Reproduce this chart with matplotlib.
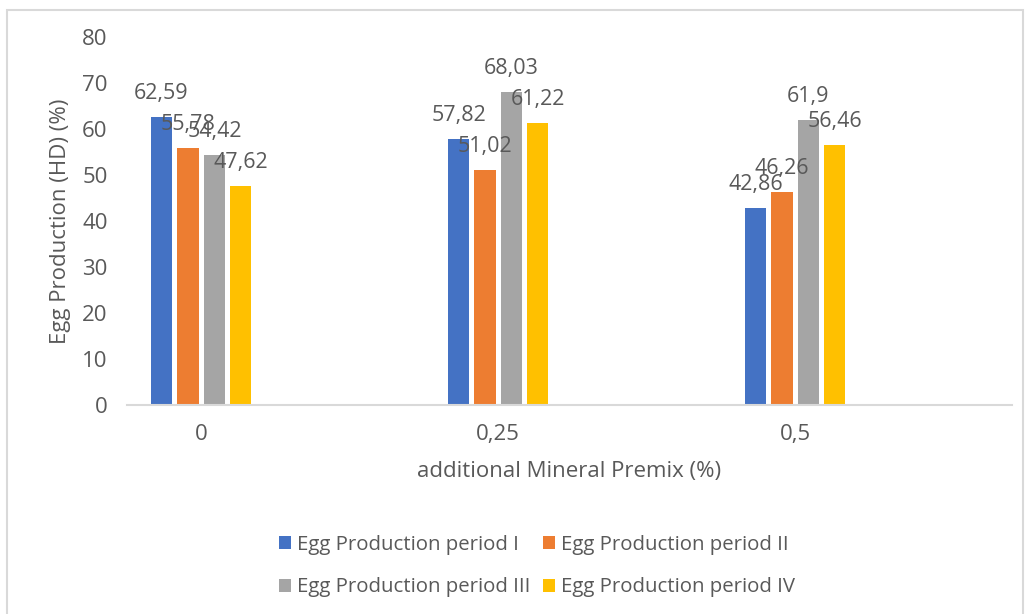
import matplotlib.pyplot as plt
import numpy as np
from matplotlib.patches import Rectangle

plt.rcParams['font.family'] = ['Open Sans', 'DejaVu Sans']

# data
kategoriler = ['0', '0,25', '0,5']
donem_1 = [62.59, 57.82, 42.86]
donem_2 = [55.78, 51.02, 46.26]
donem_3 = [54.42, 68.03, 61.90]
donem_4 = [47.62, 61.22, 56.46]
seri_adlari = ['Egg Production period I', 'Egg Production period II',
               'Egg Production period III', 'Egg Production period IV']
renkler = ['#4472C4', '#ED7D31', '#A5A5A5', '#FFC000']

metin_rengi = '#595959'
cizgi_rengi = '#D9D9D9'


def etiket(v):
    s = ('%.2f' % v).rstrip('0').rstrip('.')
    return s.replace('.', ',')


fig = plt.figure(figsize=(10.33, 6.14), dpi=100)
ax = fig.add_axes([0.1229, 0.3404, 0.8568, 0.5993])

x = np.arange(len(kategoriler))
genislik = 0.071
adim = 0.089
seriler = [donem_1, donem_2, donem_3, donem_4]
cubuklar = []
for i, seri in enumerate(seriler):
    konum = x + (i - 1.5) * adim
    b = ax.bar(konum, seri, width=genislik, color=renkler[i], label=seri_adlari[i], zorder=2)
    cubuklar.append(b)
    for xx, v in zip(konum, seri):
        ax.annotate(etiket(v), (xx, v), xytext=(0, 17), textcoords='offset points',
                    ha='center', va='center', fontsize=15.5, color=metin_rengi)

ax.set_xlim(-0.25, 2.73)
ax.set_ylim(0, 80)
ax.set_yticks(range(0, 81, 10))
ax.set_xticks(x)
ax.set_xticklabels(kategoriler)
ax.tick_params(axis='both', length=0, labelsize=16, labelcolor=metin_rengi)
ax.tick_params(axis='y', pad=14)
ax.tick_params(axis='x', pad=14)
for taraf in ['top', 'right', 'left']:
    ax.spines[taraf].set_visible(False)
ax.spines['bottom'].set_color(cizgi_rengi)
ax.spines['bottom'].set_linewidth(1.5)

ax.set_xlabel('additional Mineral Premix (%)', fontsize=16, color=metin_rengi, labelpad=11)
ax.set_ylabel('Egg Production (HD) (%)', fontsize=16, color=metin_rengi, labelpad=8)

sira = [cubuklar[0], cubuklar[2], cubuklar[1], cubuklar[3]]
fig.legend(sira, [seri_adlari[0], seri_adlari[2], seri_adlari[1], seri_adlari[3]],
           ncol=2, loc='center', bbox_to_anchor=(0.52, 0.078), frameon=False,
           fontsize=14.7, labelcolor=metin_rengi, handlelength=0.6, handleheight=0.6,
           handletextpad=0.3, columnspacing=0.6, labelspacing=1.1)

fig.patches.append(Rectangle((7 / 1033, -0.01), 1016 / 1033, 1 - 10 / 614 + 0.01,
                             transform=fig.transFigure, fill=False,
                             edgecolor=cizgi_rengi, linewidth=1.5))

fig.savefig('out.png', dpi=100)
